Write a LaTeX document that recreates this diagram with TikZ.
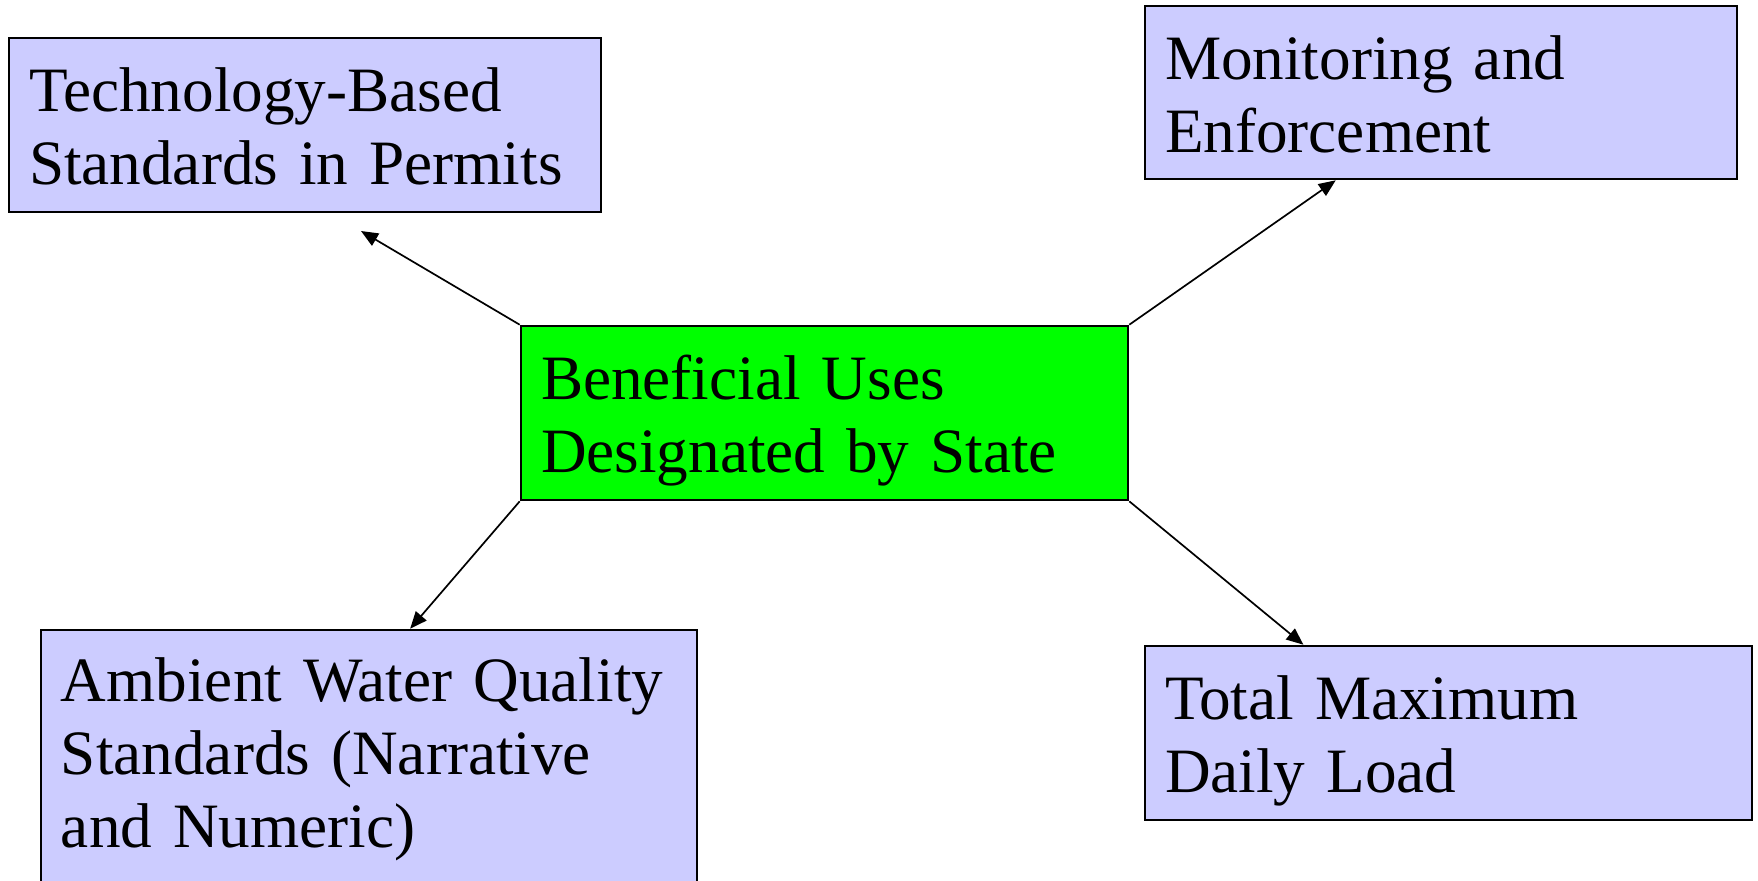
\documentclass[tikz,border=0pt]{standalone}
\usepackage{fontspec}
\setmainfont{Liberation Serif}[WordSpace=0.85]
\usetikzlibrary{arrows.meta,calc}
\definecolor{lavender}{RGB}{204,204,255}
\definecolor{brightgreen}{RGB}{0,255,0}
\begin{document}
\begin{tikzpicture}[x=0.5pt,y=-0.5pt,
  box/.style={draw=black, line width=1.3pt, fill=lavender, inner xsep=10pt, inner ysep=0pt,
    align=left, text height=23pt, text depth=36.5pt, font=\fontsize{31.6}{36.5}\selectfont},
  link/.style={line width=0.85pt, -{Triangle[length=8.5pt,width=7pt]}}]
\useasboundingbox (0,0) rectangle (1758,880);
\clip (0,0) rectangle (1758,880);
\fill[white] (0,0) rectangle (1758,880);

% central box
\node[box, fill=brightgreen, minimum width=303.5pt, minimum height=87pt, text width=283.5pt]
  (cen) at (824.5,413) {Beneficial Uses\\Designated by State};

% surrounding boxes
\node[box, minimum width=296pt, minimum height=87pt, text width=276pt]
  (tech) at (305,125) {Technology-Based\\Standards in Permits};
\node[box, minimum width=296pt, minimum height=86.5pt, text width=276pt]
  (mon) at (1441,92.5) {Monitoring and\\Enforcement};
\node[box, minimum width=328pt, minimum height=131pt, text width=308pt, text depth=83pt]
  (amb) at (369,761) {Ambient Water Quality\\Standards (Narrative\\and Numeric)};
\node[box, minimum width=303.5pt, minimum height=87pt, text width=283.5pt]
  (tmdl) at (1448.5,733) {Total Maximum\\Daily Load};

% arrow ends
\coordinate (techtip) at (361,231);

% connectors
\draw[link] (cen.north west) -- (techtip);
\draw[link] (cen.north east) -- ($(mon.south west)!0.323!(mon.south east)$);
\draw[link] (cen.south west) -- ($(amb.north west)!0.5625!(amb.north east)$);
\draw[link] (cen.south east) -- ($(tmdl.north west)!0.262!(tmdl.north east)$);
\end{tikzpicture}
\end{document}
